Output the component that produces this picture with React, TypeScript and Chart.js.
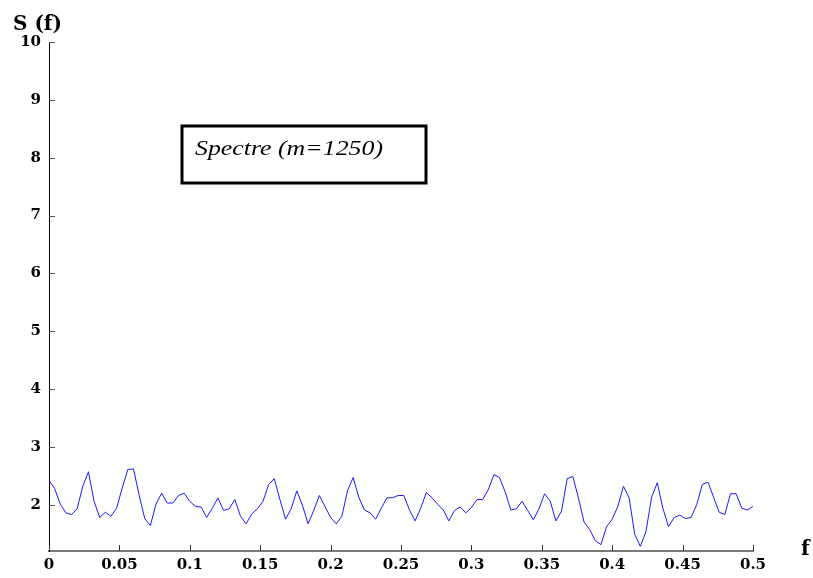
import React, { useEffect, useRef } from "react";
import { Chart, registerables } from "chart.js";

Chart.register(...registerables);

// Spectrum values S(f), 126 points evenly spaced on f in [0, 0.5]
const spectrumValues: number[] = [
  2.42, 2.28, 2.01, 1.86, 1.83, 1.93, 2.32, 2.57, 2.06, 1.78,
  1.87, 1.80, 1.94, 2.29, 2.61, 2.62, 2.17, 1.76, 1.64, 2.01,
  2.20, 2.03, 2.03, 2.16, 2.20, 2.06, 1.97, 1.96, 1.78, 1.94,
  2.12, 1.90, 1.93, 2.09, 1.80, 1.67, 1.84, 1.93, 2.06, 2.35,
  2.45, 2.09, 1.75, 1.93, 2.24, 1.99, 1.67, 1.90, 2.16, 1.97,
  1.78, 1.67, 1.80, 2.24, 2.47, 2.13, 1.91, 1.86, 1.75, 1.94,
  2.12, 2.12, 2.16, 2.16, 1.91, 1.72, 1.94, 2.21, 2.12, 2.01,
  1.91, 1.72, 1.90, 1.96, 1.86, 1.95, 2.09, 2.09, 2.26, 2.52,
  2.47, 2.22, 1.91, 1.93, 2.06, 1.90, 1.74, 1.93, 2.19, 2.06,
  1.72, 1.89, 2.45, 2.49, 2.12, 1.70, 1.57, 1.38, 1.31, 1.62,
  1.75, 1.97, 2.32, 2.12, 1.49, 1.28, 1.54, 2.13, 2.38, 1.94,
  1.62, 1.78, 1.82, 1.76, 1.78, 2.00, 2.35, 2.39, 2.13, 1.87,
  1.83, 2.19, 2.19, 1.94, 1.91, 1.97,
];

const F_MIN = 0;
const F_MAX = 0.5;
const Y_MIN = 1.2;
const Y_MAX = 10;
const xTickValues: number[] = [0, 0.05, 0.1, 0.15, 0.2, 0.25, 0.3, 0.35, 0.4, 0.45, 0.5];
const yTickValues: number[] = [2, 3, 4, 5, 6, 7, 8, 9, 10];
const yAxisTitle = "S (f)";
const xAxisTitle = "f";
const legendText = "Spectre (m=1250)";

const frequencies = spectrumValues.map(
  (_, i) => F_MIN + (i * (F_MAX - F_MIN)) / (spectrumValues.length - 1)
);

const tickFont = { family: "'DejaVu Serif', serif", size: 15, weight: "bold" as const };

const decorPlugin = {
  id: "decor",
  afterDraw(chart: any) {
    const ctx: CanvasRenderingContext2D = chart.ctx;
    const xs = chart.scales.x;
    const ys = chart.scales.y;
    const area = chart.chartArea;
    ctx.save();
    // inner ticks on x axis
    ctx.strokeStyle = "#333";
    ctx.lineWidth = 1;
    xs.ticks.forEach((t: any) => {
      const px = Math.round(xs.getPixelForValue(t.value)) + 0.5;
      ctx.beginPath();
      ctx.moveTo(px, area.bottom);
      ctx.lineTo(px, area.bottom - 6);
      ctx.stroke();
    });
    // inner ticks on y axis
    ctx.strokeStyle = "#555";
    ys.ticks.forEach((t: any) => {
      const py = Math.round(ys.getPixelForValue(t.value)) + 0.5;
      ctx.beginPath();
      ctx.moveTo(area.left, py);
      ctx.lineTo(area.left + 6, py);
      ctx.stroke();
    });
    // axis titles
    ctx.fillStyle = "#000";
    ctx.font = "bold 20px 'DejaVu Serif', serif";
    ctx.textAlign = "left";
    ctx.textBaseline = "alphabetic";
    ctx.fillText(yAxisTitle, 13, 30);
    ctx.fillText(xAxisTitle, 801, 555);
    // legend box
    const bx = 182, by = 126, bw = 244, bh = 57;
    ctx.lineWidth = 3;
    ctx.strokeStyle = "#000";
    ctx.strokeRect(bx, by, bw, bh);
    ctx.font = "italic 22px 'Liberation Serif', serif";
    const w = ctx.measureText(legendText).width;
    const target = 188;
    ctx.translate(195, 155);
    ctx.scale(target / w, 1);
    ctx.fillText(legendText, 0, 0);
    ctx.restore();
  },
};

export default function App() {
  const ref = useRef<HTMLCanvasElement | null>(null);
  useEffect(() => {
    if (!ref.current) return;
    const chart = new Chart(ref.current, {
      type: "line",
      data: {
        datasets: [
          {
            data: frequencies.map((f, i) => ({ x: f, y: spectrumValues[i] })),
            borderColor: "#1a1aff",
            borderWidth: 1,
            pointRadius: 0,
            tension: 0,
            fill: false,
          },
        ],
      },
      options: {
        responsive: false,
        animation: false,
        layout: { padding: { top: 42, right: 60, left: 0, bottom: 0 } },
        plugins: { legend: { display: false }, tooltip: { enabled: false } },
        scales: {
          x: {
            type: "linear",
            min: F_MIN,
            max: F_MAX,
            afterBuildTicks: (s: any) => {
              s.ticks = xTickValues.map((v) => ({ value: v }));
            },
            afterFit: (s: any) => {
              s.height = 27;
            },
            grid: { display: false, drawTicks: false },
            border: { display: true, color: "#7a7a7a", width: 2 },
            ticks: {
              font: tickFont,
              color: "#000",
              padding: 5,
              maxRotation: 0,
              autoSkip: false,
              callback: (v: any) => String(Number(Number(v).toFixed(2))),
            },
          },
          y: {
            type: "linear",
            min: Y_MIN,
            max: Y_MAX,
            afterBuildTicks: (s: any) => {
              s.ticks = yTickValues.map((v) => ({ value: v }));
            },
            afterFit: (s: any) => {
              s.width = 49;
            },
            grid: { display: false, drawTicks: false },
            border: { display: true, color: "#000", width: 1 },
            ticks: {
              font: tickFont,
              color: "#000",
              padding: 8,
              autoSkip: false,
              callback: (v: any) => String(v),
            },
          },
        },
      } as any,
      plugins: [decorPlugin],
    });
    return () => chart.destroy();
  }, []);
  return (
    <div style={{ position: "fixed", left: 0, top: 0, width: 813, height: 578, background: "#fff" }}>
      <canvas ref={ref} width={813} height={578} style={{ width: 813, height: 578 }} />
    </div>
  );
}
